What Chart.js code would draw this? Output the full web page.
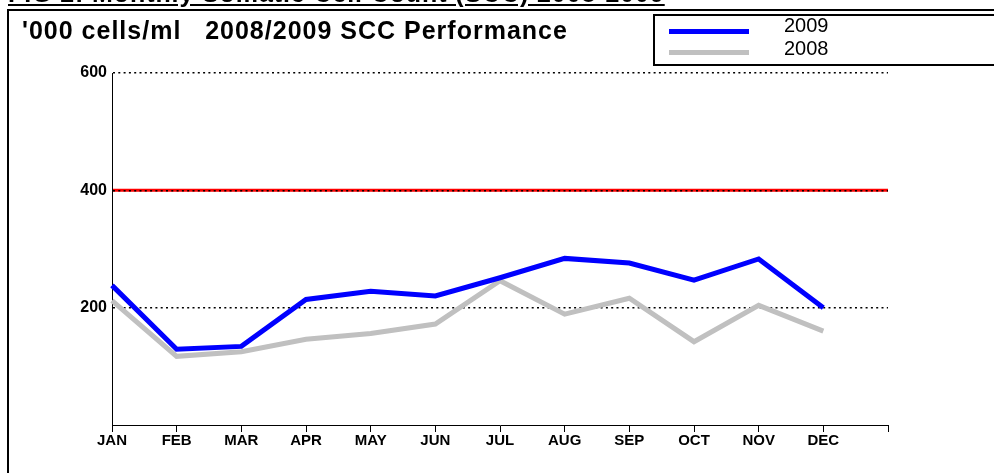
<!DOCTYPE html>
<html>
<head>
<meta charset="utf-8">
<script src="https://cdn.jsdelivr.net/npm/chart.js@4/dist/chart.umd.min.js"></script>
<style>
  html,body{margin:0;padding:0;background:#fff;overflow:hidden;}
  #wrap{position:relative;width:994px;height:473px;overflow:hidden;font-family:"Liberation Sans",Arial,sans-serif;}
  #chart{position:absolute;left:0;top:0;}
  #fig{position:absolute;left:8px;top:-21px;font-weight:bold;font-size:25px;letter-spacing:0.9px;white-space:pre;text-decoration:underline;line-height:28px;}
  #frame{position:absolute;left:7px;top:9px;width:1000px;height:500px;border:2px solid #000;box-sizing:border-box;}
  #title{position:absolute;left:22px;top:16px;font-weight:bold;font-size:25px;letter-spacing:1px;white-space:pre;line-height:28px;}
  #legend{position:absolute;left:653px;top:14px;width:400px;height:52px;border:2px solid #000;box-sizing:border-box;background:#fff;}
  .li{position:absolute;left:0;height:20px;width:300px;}
  .sw{position:absolute;left:14px;width:80px;height:5px;}
  .lt{position:absolute;left:129px;font-size:20px;line-height:22px;}
</style>
</head>
<body>
<div id="wrap">
  <canvas id="chart" width="994" height="473"></canvas>
  <div id="frame"></div>
  <div id="fig">FIG 2: Monthly Somatic Cell Count (SCC) 2008-2009</div>
  <div id="title">'000 cells/ml   2008/2009 SCC Performance</div>
  <div id="legend"></div>
</div>
<script>
const months = ['JAN','FEB','MAR','APR','MAY','JUN','JUL','AUG','SEP','OCT','NOV','DEC',''];
const scc2009 = [238,129,134,214,228,220,251,284,276,247,283,200];
const scc2008 = [212,117,125,146,156,172,246,189,216,142,204,160];
const yTicks = [200,400,600];
const threshold = 400;

const seriesNames = ['2009','2008'];
const seriesColors = ['#0000ff','#c0c0c0'];

const thresholdPlugin = {
  id:'threshold',
  beforeDraw(chart){
    const y = chart.scales.y.getPixelForValue(threshold);
    const ctx = chart.ctx;
    ctx.save();
    ctx.strokeStyle = '#ff0000';
    ctx.lineWidth = 3;
    ctx.beginPath();
    ctx.moveTo(chart.chartArea.left, y);
    ctx.lineTo(chart.chartArea.right, y);
    ctx.stroke();
    ctx.restore();
  }
};

const ctx = document.getElementById('chart').getContext('2d');
new Chart(ctx, {
  type:'line',
  data:{
    labels: months,
    datasets:[
      {label:seriesNames[1], data:scc2008, borderColor:seriesColors[1], borderWidth:5, pointRadius:0, tension:0, order:2, borderJoinStyle:'miter'},
      {label:seriesNames[0], data:scc2009, borderColor:seriesColors[0], borderWidth:5, pointRadius:0, tension:0, order:1, borderJoinStyle:'miter'}
    ]
  },
  options:{
    responsive:false,
    animation:false,
    events:[],
    layout:{padding:{left:0,top:73,right:106,bottom:0}},
    plugins:{legend:{display:false}, tooltip:{enabled:false}, title:{display:false}},
    scales:{
      x:{
        offset:false,
        grid:{drawOnChartArea:false, drawTicks:true, tickLength:7, color:'#000', lineWidth:1},
        border:{display:true,color:'#000',width:1},
        ticks:{color:'#000', font:{family:'"Liberation Sans", Arial, sans-serif', size:15, weight:'bold'}, padding:0, maxRotation:0, autoSkip:false},
        afterFit(s){ s.height = 473-425; }
      },
      y:{
        min:0, max:600,
        afterBuildTicks(s){ s.ticks = [0].concat(yTicks).map(v=>({value:v})); },
        grid:{drawTicks:false, color:(c)=> c.tick && c.tick.value===0 ? 'rgba(0,0,0,0)' : '#000', lineWidth:1.5},
        border:{display:true,color:'#000',width:1, dash:[2,3.3]},
        ticks:{color:'#000', padding:5, font:{family:'"Liberation Sans", Arial, sans-serif', size:16, weight:'bold'}, callback:(v)=> v===0 ? '' : String(v)},
        afterFit(s){ s.width = 112; }
      }
    }
  },
  plugins:[thresholdPlugin]
});

const leg = document.getElementById('legend');
seriesNames.forEach((n,i)=>{
  const li = document.createElement('div'); li.className='li'; li.style.top = (i===0? 3 : 26)+'px';
  const sw = document.createElement('div'); sw.className='sw'; sw.style.background = seriesColors[i]; sw.style.top = (i===0?10:8)+'px';
  const lt = document.createElement('div'); lt.className='lt'; lt.textContent = n; lt.style.top='-5px';
  li.appendChild(sw); li.appendChild(lt); leg.appendChild(li);
});
</script>
</body>
</html>
